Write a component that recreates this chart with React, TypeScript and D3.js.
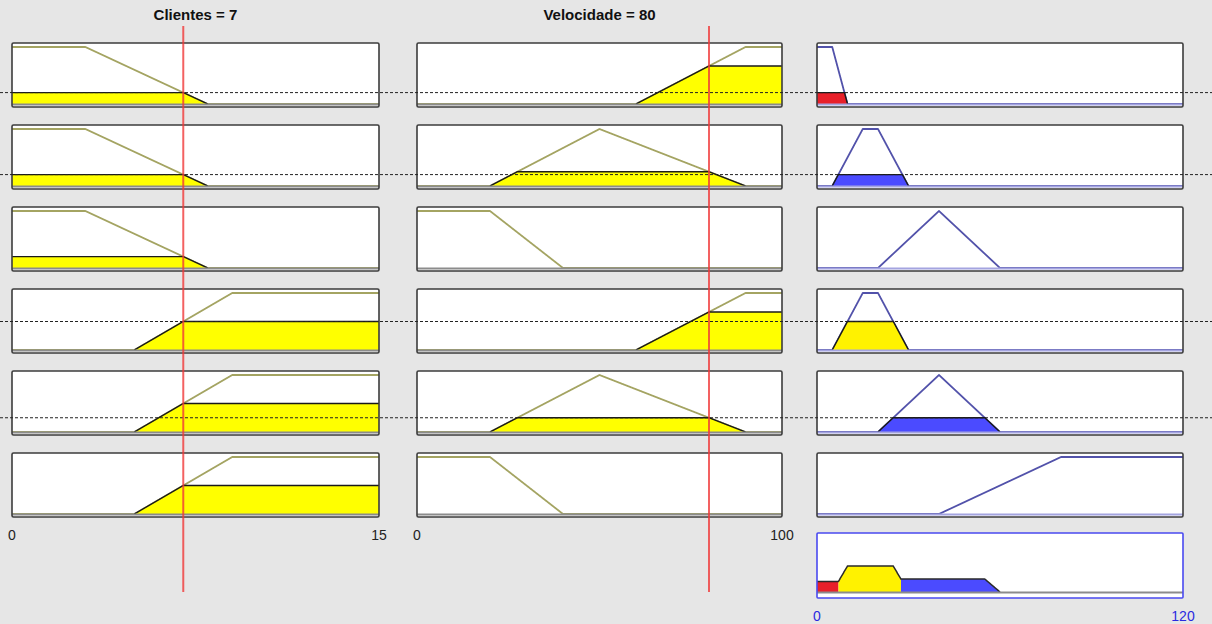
import React from "react";
import * as d3 from "d3";

const W = 1212;
const H = 624;

// Crisp inputs and universes of discourse
const clientesValue = 7;
const velocidadeValue = 80;
const clientesRange: [number, number] = [0, 15];
const velocidadeRange: [number, number] = [0, 100];
const outputRange: [number, number] = [0, 120];

// Membership functions as trapezoids [a, b, c, d] (triangles use b = c)
const clientesMFs = [
  [0, 0, 3, 8],
  [5, 9, 15, 15],
];
const velocidadeMFs = [
  [60, 90, 100, 100],
  [20, 50, 50, 90],
  [0, 0, 20, 40],
];
const outputMFs = [
  [0, 0, 5, 10],
  [5, 15, 20, 30],
  [20, 40, 40, 60],
  [40, 80, 120, 120],
];

// Rule base: antecedent / consequent MF index per rule
const ruleClientes = [0, 0, 0, 1, 1, 1];
const ruleVelocidade = [0, 1, 2, 0, 1, 2];
const ruleOutput = [0, 1, 2, 1, 2, 3];
const ruleColors = ["#e8202a", "#4b4bff", "#4b4bff", "#fff200", "#4b4bff", "#4b4bff"];

const clientesTicks = [0, 15];
const velocidadeTicks = [0, 100];
const outputTicks = [0, 120];

// Layout
const colX = [12, 417, 817];
const colW = [367, 365, 366];
const rowTop0 = 43;
const rowPitch = 82;
const boxH = 64;
const aggTop = 533;
const aggH = 65;

const inputColor = "#a4a462";
const outputColor = "#5252aa";
const inputFill = "#ffff00";

function trap(p: number[], x: number): number {
  const [a, b, c, d] = p;
  const up = b > a ? (x - a) / (b - a) : x >= a ? 1 : 0;
  const down = d > c ? (d - x) / (d - c) : x <= d ? 1 : 0;
  return Math.max(0, Math.min(up, 1, down));
}

function samples(range: [number, number], extra: number[]): number[] {
  const n = 2400;
  const step = (range[1] - range[0]) / n;
  const xs = d3.range(0, n + 1).map((i) => range[0] + i * step);
  extra.forEach((e) => {
    if (e >= range[0] && e <= range[1]) xs.push(e);
  });
  return Array.from(new Set(xs)).sort((a, b) => a - b);
}

type Pt = [number, number];

function Cell(props: {
  x: number;
  top: number;
  w: number;
  range: [number, number];
  mf: number[];
  level: number;
  lineColor: string;
  baseColor: string;
  fillColor: string;
}) {
  const { x, top, w, range, mf, level, lineColor, baseColor, fillColor } = props;
  const sx = d3.scaleLinear().domain(range).range([x, x + w]);
  const sy = d3.scaleLinear().domain([0, 1]).range([top + 61, top + 4]);
  const [a, b, c, d] = mf;
  const cross = [a + level * (b - a), d - level * (d - c)];
  const xs = samples(range, [...mf, ...cross]);
  const full: Pt[] = xs.map((v) => [v, trap(mf, v)]);
  const clipped: Pt[] = xs.map((v) => [v, Math.min(trap(mf, v), level)]);
  const line = d3
    .line<Pt>()
    .x((p) => sx(p[0]))
    .y((p) => sy(p[1]));
  const area = d3
    .area<Pt>()
    .x((p) => sx(p[0]))
    .y0(sy(0))
    .y1((p) => sy(p[1]));
  const active = clipped.filter(
    (p, i) => p[1] > 0 || (clipped[i - 1] && clipped[i - 1][1] > 0) || (clipped[i + 1] && clipped[i + 1][1] > 0)
  );
  return (
    <g>
      <rect x={x} y={top} width={w} height={boxH} fill="#ffffff" />
      <path d={line(full) || ""} fill="none" stroke={lineColor} strokeWidth={1.8} strokeLinejoin="round" />
      {level > 0 && (
        <g>
          <path d={area(active) || ""} fill={fillColor} stroke="none" />
          <path d={line(active) || ""} fill="none" stroke="#1a1a1a" strokeWidth={1.4} strokeLinejoin="round" />
        </g>
      )}
      <line x1={x} x2={x + w} y1={sy(0) + 0.5} y2={sy(0) + 0.5} stroke={baseColor} strokeWidth={2.2} />
      <rect x={x} y={top} width={w} height={boxH} rx={1.5} fill="none" stroke="#3c3c3c" strokeWidth={1.6} />
    </g>
  );
}

export default function App() {
  const sxC = d3.scaleLinear().domain(clientesRange).range([colX[0], colX[0] + colW[0]]);
  const sxV = d3.scaleLinear().domain(velocidadeRange).range([colX[1], colX[1] + colW[1]]);
  const sxO = d3.scaleLinear().domain(outputRange).range([colX[2], colX[2] + colW[2]]);

  const muC = ruleClientes.map((k) => trap(clientesMFs[k], clientesValue));
  const muV = ruleVelocidade.map((k) => trap(velocidadeMFs[k], velocidadeValue));
  const firing = muC.map((m, i) => Math.min(m, muV[i]));

  const rowTop = (i: number) => rowTop0 + i * rowPitch;
  const dashY = (i: number) =>
    d3.scaleLinear().domain([0, 1]).range([rowTop(i) + 61, rowTop(i) + 4])(firing[i]);

  // Aggregated output: max of clipped consequents, coloured by the dominating rule
  const syA = d3.scaleLinear().domain([0, 1]).range([aggTop + 59, aggTop + 7]);
  const axs = samples(outputRange, []);
  const agg = axs.map((v) => {
    let best = 0;
    let idx = -1;
    firing.forEach((f, r) => {
      const val = Math.min(trap(outputMFs[ruleOutput[r]], v), f);
      if (val > best + 1e-9) {
        best = val;
        idx = r;
      }
    });
    return { x: v, y: best, r: idx };
  });
  const runs: { r: number; pts: Pt[] }[] = [];
  agg.forEach((p, i) => {
    if (p.r < 0) {
      if (runs.length && i > 0 && agg[i - 1].r >= 0) runs[runs.length - 1].pts.push([p.x, p.y]);
      return;
    }
    const last = runs[runs.length - 1];
    if (!last || last.r !== p.r || (i > 0 && agg[i - 1].r < 0)) {
      if (last && i > 0 && agg[i - 1].r >= 0) last.pts.push([p.x, p.y]);
      runs.push({ r: p.r, pts: [[p.x, p.y]] });
    } else {
      last.pts.push([p.x, p.y]);
    }
  });
  const aggArea = d3
    .area<Pt>()
    .x((p) => sxO(p[0]))
    .y0(syA(0))
    .y1((p) => syA(p[1]));
  const aggLine = d3
    .line<Pt>()
    .x((p) => sxO(p[0]))
    .y((p) => syA(p[1]));
  const aggOutline = agg
    .filter((p, i) => p.y > 0 || (agg[i - 1] && agg[i - 1].y > 0))
    .map((p) => [p.x, p.y] as Pt);

  const font = "'Liberation Sans', Arial, Helvetica, sans-serif";

  return (
    <svg width={W} height={H} style={{ position: "absolute", left: 0, top: 0 }} fontFamily={font}>
      <rect x={0} y={0} width={W} height={H} fill="#e6e6e6" />

      <text x={colX[0] + colW[0] / 2} y={20} textAnchor="middle" fontSize={15} fontWeight="bold" fill="#111">
        Clientes = {clientesValue}
      </text>
      <text x={colX[1] + colW[1] / 2} y={20} textAnchor="middle" fontSize={15} fontWeight="bold" fill="#111">
        Velocidade = {velocidadeValue}
      </text>

      {ruleClientes.map((_, i) => (
        <g key={i}>
          <Cell
            x={colX[0]}
            top={rowTop(i)}
            w={colW[0]}
            range={clientesRange}
            mf={clientesMFs[ruleClientes[i]]}
            level={muC[i]}
            lineColor={inputColor}
            baseColor="#8c8c8c"
            fillColor={inputFill}
          />
          <Cell
            x={colX[1]}
            top={rowTop(i)}
            w={colW[1]}
            range={velocidadeRange}
            mf={velocidadeMFs[ruleVelocidade[i]]}
            level={muV[i]}
            lineColor={inputColor}
            baseColor="#8c8c8c"
            fillColor={inputFill}
          />
          <Cell
            x={colX[2]}
            top={rowTop(i)}
            w={colW[2]}
            range={outputRange}
            mf={outputMFs[ruleOutput[i]]}
            level={firing[i]}
            lineColor={outputColor}
            baseColor="#a4a4e0"
            fillColor={ruleColors[i]}
          />
        </g>
      ))}

      {/* aggregated output */}
      <g>
        <rect x={colX[2]} y={aggTop} width={colW[2]} height={aggH} fill="#ffffff" />
        {runs.map((run, k) => (
          <path key={k} d={aggArea(run.pts) || ""} fill={ruleColors[run.r]} stroke="none" />
        ))}
        <path d={aggLine(aggOutline) || ""} fill="none" stroke="#2a2a2a" strokeWidth={1.5} strokeLinejoin="round" />
        <line
          x1={colX[2]}
          x2={colX[2] + colW[2]}
          y1={syA(0) + 0.5}
          y2={syA(0) + 0.5}
          stroke="#8c8c8c"
          strokeWidth={2}
        />
        <rect x={colX[2]} y={aggTop} width={colW[2]} height={aggH} rx={1} fill="none" stroke="#4a4af0" strokeWidth={1.6} />
      </g>

      {/* firing strength markers */}
      {firing.map((f, i) =>
        f > 0 ? (
          <line key={i} x1={0} x2={W} y1={dashY(i)} y2={dashY(i)} stroke="#222" strokeWidth={1} strokeDasharray="3,2" />
        ) : null
      )}

      {/* crisp input markers */}
      <line
        x1={sxC(clientesValue)}
        x2={sxC(clientesValue)}
        y1={26}
        y2={592}
        stroke="#f03a3a"
        strokeOpacity={0.8}
        strokeWidth={2}
      />
      <line
        x1={sxV(velocidadeValue)}
        x2={sxV(velocidadeValue)}
        y1={26}
        y2={592}
        stroke="#f03a3a"
        strokeOpacity={0.8}
        strokeWidth={2}
      />

      {/* range labels */}
      {clientesTicks.map((t) => (
        <text key={"c" + t} x={sxC(t)} y={540} textAnchor="middle" fontSize={14} fill="#222">
          {t}
        </text>
      ))}
      {velocidadeTicks.map((t) => (
        <text key={"v" + t} x={sxV(t)} y={540} textAnchor="middle" fontSize={14} fill="#222">
          {t}
        </text>
      ))}
      {outputTicks.map((t) => (
        <text key={"o" + t} x={sxO(t)} y={621} textAnchor="middle" fontSize={14} fill="#2a2ae0">
          {t}
        </text>
      ))}
    </svg>
  );
}
